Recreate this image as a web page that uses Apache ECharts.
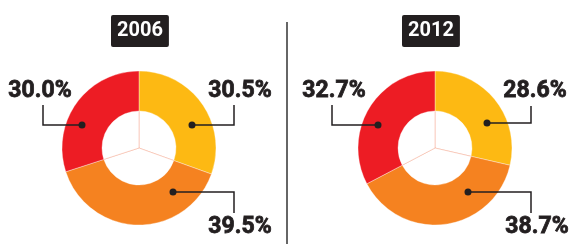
<!DOCTYPE html>
<html>
<head>
<meta charset="utf-8">
<script src="https://cdn.jsdelivr.net/npm/echarts@6/dist/echarts.min.js"></script>
<style>
html, body { margin: 0; padding: 0; background: #fff; }
#chart { width: 570px; height: 244px; }
</style>
</head>
<body>
<div id="chart"></div>
<script>
// 数据
const years = ["2006", "2012"];
const parts = ["A", "B", "C"];
const values2006 = [30.5, 39.5, 30.0];
const values2012 = [28.6, 38.7, 32.7];

const colors = ["#FDB913", "#F58220", "#ED1C24"];
const ink = "#231F20";
const font = "Roboto, 'DejaVu Sans Condensed', sans-serif";

// 每个饼图的中心
const centers = [[139, 148], [435, 148]];
// 标注: 圆点 -> 拐点 -> 线末端, 文字位置
const notes = [
	[
		{ dot: [192, 125], bend: [234, 125], end: [234, 105], text: [240, 91] },
		{ dot: [173, 192], bend: [234, 192], end: [234, 213], text: [240, 227] },
		{ dot: [82, 125], bend: [43, 125], end: [43, 105], text: [40, 91] }
	],
	[
		{ dot: [487, 123], bend: [531, 123], end: [531, 106], text: [535, 91] },
		{ dot: [468, 192], bend: [531, 192], end: [531, 213], text: [537, 227] },
		{ dot: [378, 125], bend: [332, 125], end: [332, 105], text: [334, 91] }
	]
];

const chart = echarts.init(document.getElementById("chart"));

const allValues = [values2006, values2012];
const series = [];
allValues.forEach(function (vals, i) {
	const data = vals.map(function (v, k) {
		return { name: parts[k], value: v };
	});
	// 中间空洞里的淡色分隔线
	series.push({
		type: "pie",
		silent: true,
		center: centers[i],
		radius: [0, 38],
		label: { show: false },
		labelLine: { show: false },
		itemStyle: { color: "#fff", borderColor: "rgba(240,140,110,0.35)", borderWidth: 1 },
		data: data
	});
	series.push({
		type: "pie",
		silent: true,
		center: centers[i],
		radius: [37, 77],
		startAngle: 90,
		itemStyle: { borderColor: "rgba(255,255,255,0.6)", borderWidth: 0.6 },
		label: {
			show: true,
			overflow: "none",
			formatter: function (p) {
				return p.value.toFixed(1) + "%";
			},
			fontFamily: font,
			fontWeight: "bold",
			fontSize: 23,
			color: ink,
			textBorderColor: ink,
			textBorderWidth: 0.8
		},
		labelLine: { show: false },
		labelLayout: function (p) {
			const n = notes[i][p.dataIndex];
			return {
				x: n.text[0],
				y: n.text[1],
				align: "center",
				verticalAlign: "middle"
			};
		},
		data: data
	});
});

// 引线、圆点和中间分隔线
const graphics = [];
notes.forEach(function (group) {
	group.forEach(function (n) {
		graphics.push({
			type: "polyline",
			shape: { points: [n.dot, n.bend, n.end] },
			style: { stroke: ink, lineWidth: 1.5, fill: null },
			z: 100
		});
		graphics.push({
			type: "circle",
			shape: { cx: n.dot[0], cy: n.dot[1], r: 3.5 },
			style: { fill: ink },
			z: 101
		});
	});
});
graphics.push({
	type: "line",
	shape: { x1: 287, y1: 22, x2: 287, y2: 244 },
	style: { stroke: "#333", lineWidth: 1.5 }
});

const option = {
	animation: false,
	color: colors,
	title: years.map(function (y, i) {
		return {
			text: y,
			left: [111, 402][i],
			top: 16,
			backgroundColor: ink,
			borderRadius: 2,
			padding: [6, 6, 6, 6],
			textStyle: { color: "#fff", fontFamily: font, fontWeight: "bold", fontSize: 20, lineHeight: 18 }
		};
	}),
	graphic: graphics,
	series: series
};

chart.setOption(option);
</script>
</body>
</html>
